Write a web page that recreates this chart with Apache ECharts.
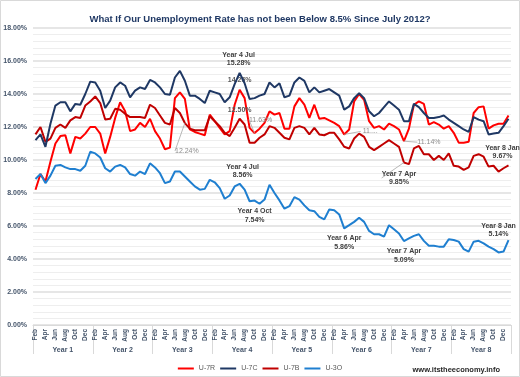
<!DOCTYPE html>
<html>
<head>
<meta charset="utf-8">
<script src="https://cdn.jsdelivr.net/npm/echarts@6/dist/echarts.min.js"></script>
<style>
  html, body { margin: 0; padding: 0; background: #fff; }
  #chart { width: 520px; height: 377px; }
</style>
</head>
<body>
<div id="chart"></div>
<script>
// categories: each "year" runs Feb .. Jan
const years = ['Year 1', 'Year 2', 'Year 3', 'Year 4', 'Year 5', 'Year 6', 'Year 7', 'Year 8'];
const months = ['Feb', 'Mar', 'Apr', 'May', 'Jun', 'Jul', 'Aug', 'Sep', 'Oct', 'Nov', 'Dec', 'Jan'];
const seriesNames = ['U-7R', 'U-7C', 'U-7B', 'U-3O'];

// values (%)
const u7r = [
  8.2, 9.15, 8.7, 9.9, 11.0, 11.45, 11.5, 10.4, 11.4, 11.3, 11.6, 12.0,
  12.0, 11.6, 10.4, 11.4, 12.55, 13.5, 12.95, 11.75, 11.85, 12.25, 12.0, 12.5,
  11.75, 11.3, 10.65, 10.75, 13.75, 14.1, 13.7, 11.85, 11.7, 11.6, 11.5, 12.75,
  12.35, 11.95, 11.55, 11.75, 13.35, 14.26, 13.75, 11.95, 11.63, 11.9, 12.25, 12.95,
  12.75, 12.85, 11.9, 11.9, 13.25, 13.75, 13.35, 12.55, 13.35, 12.5, 12.55, 12.4,
  12.25, 12.05, 11.55, 11.85, 13.55, 14.0, 13.65, 12.35, 11.95, 12.05, 11.85, 12.2,
  12.05, 11.85, 11.14, 11.9, 13.35, 13.55, 13.4, 12.15, 12.3, 12.15, 11.9, 12.05,
  11.65, 11.05, 11.05, 11.1, 12.85, 13.2, 13.25, 11.9, 12.1, 12.2, 12.2, 12.7
];
const u7c = [
  11.2, 11.55, 10.8, 12.2, 13.3, 13.5, 13.5, 12.95, 13.4, 13.35, 14.0, 14.75,
  14.7, 14.2, 13.15, 13.6, 14.4, 14.7, 14.5, 13.8, 14.2, 14.4, 14.3, 14.85,
  14.7, 14.4, 14.0, 13.95, 15.0, 15.4, 14.8, 13.9, 13.9, 13.7, 13.45, 14.2,
  14.1, 14.0, 13.5, 13.8, 14.6, 15.28, 14.65, 13.7, 13.75, 13.9, 14.0, 14.7,
  14.4, 14.65, 13.8, 13.9, 14.7, 15.0, 14.8, 14.1, 14.4, 14.1, 14.2, 14.3,
  14.1, 13.9, 13.05, 13.25, 13.75, 14.05, 13.75, 12.95, 12.65, 12.85, 13.2, 13.55,
  13.3, 13.05, 12.35, 12.35, 13.4, 13.2, 12.85, 12.55, 12.55, 12.6, 12.7, 12.45,
  12.25, 12.05, 11.85, 11.7, 12.6, 12.45, 12.35, 11.55, 11.6, 11.65, 12.05, 12.5
];
const u7b = [
  11.55, 12.0, 11.1, 11.3, 11.95, 12.15, 11.95, 12.4, 12.6, 12.55, 13.3, 13.55,
  13.85, 13.45, 12.45, 12.5, 13.1, 13.05, 12.8, 12.6, 12.6, 12.6, 12.55, 13.35,
  13.15, 12.7, 12.25, 12.15, 13.15, 12.85, 12.24, 11.9, 11.8, 11.8, 11.8, 12.65,
  12.35, 12.05, 11.65, 11.45, 11.95, 12.5, 12.15, 11.05, 11.05, 11.35, 11.55, 12.05,
  11.95, 11.65, 11.35, 11.25, 11.95, 12.05, 11.95, 11.55, 11.95, 11.55, 11.5, 11.65,
  11.65, 11.25, 10.8, 10.7, 11.3, 11.6, 11.4, 10.8, 10.6, 10.8, 11.0, 11.2,
  11.0, 10.8, 9.85, 9.75, 10.7, 10.85, 10.35, 10.35, 10.0, 10.25, 10.0, 10.4,
  9.65, 9.6, 9.4, 9.55, 10.25, 10.35, 10.2, 9.6, 9.65, 9.3, 9.5, 9.67
];
const u3o = [
  8.85, 9.15, 8.6, 9.05, 9.65, 9.7, 9.55, 9.45, 9.45, 9.35, 9.65, 10.5,
  10.4, 10.15, 9.5, 9.3, 9.6, 9.7, 9.55, 9.15, 9.05, 9.3, 9.15, 9.8,
  9.55, 9.2, 8.6, 8.7, 9.3, 9.3, 9.0, 8.7, 8.4, 8.2, 8.25, 8.8,
  8.65, 8.3, 7.65, 7.85, 8.4, 8.56, 8.2, 7.5, 7.54, 7.35, 7.6, 8.5,
  8.0, 7.55, 7.05, 7.2, 7.75, 7.6, 7.25, 6.95, 6.9, 6.55, 6.4, 7.0,
  6.95, 6.7, 5.86, 6.05, 6.25, 6.5, 6.25, 5.7, 5.5, 5.5, 5.35, 6.05,
  5.8, 5.55, 5.09, 5.25, 5.4, 5.5, 5.1, 4.8, 4.8, 4.75, 4.75, 5.2,
  5.15, 5.05, 4.6, 4.45, 5.05, 5.1, 4.95, 4.75, 4.6, 4.4, 4.45, 5.14
];
const seriesValues = [u7r, u7c, u7b, u3o];
const colors = ['#ff0000', '#1f3864', '#c00000', '#1f7fd0'];

// callouts: series index, point index, kind, label offset from the point
const notes = [
  { s: 1, i: 41, kind: 'year', dx: -1, dy: -14 },
  { s: 0, i: 41, kind: 'val', dx: 0, dy: -10 },
  { s: 2, i: 41, kind: 'val', dx: 0, dy: -9 },
  { s: 0, i: 44, kind: 'grey', dx: 6, dy: -13.5, line: true },
  { s: 2, i: 30, kind: 'grey', dx: 2, dy: 28, line: true },
  { s: 0, i: 62, kind: 'cut', dx: 26, dy: -3, line: true },
  { s: 0, i: 74, kind: 'grey', dx: 25, dy: 1, line: true },
  { s: 2, i: 74, kind: 'year', dx: -5, dy: 15.5, line: true },
  { s: 2, i: 95, kind: 'year', dx: -6, dy: -13.5 },
  { s: 3, i: 41, kind: 'year', dx: 3, dy: -12.5 },
  { s: 3, i: 44, kind: 'year', dx: 0, dy: 15 },
  { s: 3, i: 62, kind: 'year', dx: 0, dy: 14.5 },
  { s: 3, i: 74, kind: 'year', dx: 0, dy: 14.5 },
  { s: 3, i: 95, kind: 'year', dx: -10, dy: -10 }
];

const categories = [];
years.forEach(y => months.forEach(m => categories.push(y + ' ' + m)));

const pct = v => v.toFixed(2) + '%';
const noteMap = {};
notes.forEach(n => { noteMap[n.s + ':' + n.i] = n; });

function labelFor(n, v) {
  const base = { show: true, position: 'inside', fontSize: 7, lineHeight: 8.5, align: 'center' };
  if (n.kind === 'year') {
    return Object.assign(base, { color: '#404040', fontWeight: 'bold', formatter: categories[n.i] + '\n' + pct(v) });
  }
  if (n.kind === 'val') {
    return Object.assign(base, { color: '#595959', fontWeight: 'bold', formatter: pct(v) });
  }
  if (n.kind === 'cut') {
    return Object.assign(base, { color: '#8c8c8c', formatter: pct(v), width: 19, overflow: 'truncate' });
  }
  return Object.assign(base, { color: '#8c8c8c', formatter: pct(v) });
}

const series = seriesValues.map((vals, s) => ({
  name: seriesNames[s],
  type: 'line',
  data: vals.map((v, i) => {
    const n = noteMap[s + ':' + i];
    if (!n) return v;
    return {
      value: v,
      label: labelFor(n, v),
      labelLine: { show: !!n.line, lineStyle: { color: '#a6a6a6', width: 0.8 } }
    };
  }),
  symbol: 'circle',
  symbolSize: 0,
  showSymbol: true,
  showAllSymbol: true,
  itemStyle: { color: colors[s] },
  lineStyle: { color: colors[s], width: 2 },
  label: { show: false },
  labelLayout: function (p) {
    const n = noteMap[p.seriesIndex + ':' + p.dataIndex];
    if (!n) return {};
    const cx = p.rect.x + p.rect.width / 2;
    const cy = p.rect.y + p.rect.height / 2;
    return { x: cx + n.dx, y: cy + n.dy, align: 'center', verticalAlign: 'middle' };
  },
  emphasis: { disabled: true },
  z: s === 1 ? 3 : 2
}));

const chart = echarts.init(document.getElementById('chart'));
chart.setOption({
  animation: false,
  textStyle: { fontFamily: 'Liberation Sans, Arial, sans-serif' },
  title: [
    {
      text: 'What If Our Unemployment Rate has not been Below 8.5% Since July 2012?',
      left: 'center',
      top: 9,
      textStyle: { fontSize: 9.5, fontWeight: 'bold', color: '#1f3864' }
    },
    {
      text: 'www.itstheeconomy.info',
      right: 15,
      top: 361,
      textStyle: { fontSize: 7.5, fontWeight: 'bold', color: '#262626' }
    }
  ],
  color: colors,
  legend: {
    data: seriesNames,
    left: 'center',
    top: 360,
    icon: 'rect',
    itemWidth: 16,
    itemHeight: 2,
    itemGap: 5,
    textStyle: { fontSize: 7, color: '#595959' }
  },
  grid: { left: 33, right: 9, top: 28, bottom: 52 },
  xAxis: [
    {
      type: 'category',
      data: categories,
      boundaryGap: true,
      axisLine: { lineStyle: { color: '#d9d9d9' } },
      axisTick: { show: false },
      axisLabel: {
        interval: 1,
        rotate: 90,
        fontSize: 6.5,
        fontWeight: 'bold',
        color: '#44546a',
        margin: 4,
        formatter: v => v.split(' ')[2]
      }
    },
    {
      type: 'category',
      data: years,
      position: 'bottom',
      boundaryGap: true,
      axisLine: { show: false },
      axisTick: { show: true, length: 29, lineStyle: { color: '#d9d9d9' } },
      axisLabel: { interval: 0, margin: 22, fontSize: 7, fontWeight: 'bold', color: '#44546a' }
    }
  ],
  yAxis: {
    type: 'value',
    min: 0,
    max: 18,
    interval: 2,
    axisLine: { show: false },
    axisTick: { show: false },
    axisLabel: { formatter: v => v.toFixed(2) + '%', fontSize: 7, fontWeight: 'bold', color: '#44546a', margin: 6 },
    splitLine: { lineStyle: { color: '#dedede', width: 1.5 } },
    minorTick: { show: false, splitNumber: 5 },
    minorSplitLine: { show: true, lineStyle: { color: '#eeeeee', width: 1 } }
  },
  graphic: [
    {
      type: 'rect',
      shape: { x: 0.5, y: 0.5, width: 519, height: 376 },
      style: { fill: 'none', stroke: '#d9d9d9', lineWidth: 1 },
      silent: true
    }
  ],
  series: series
});
</script>
</body>
</html>
